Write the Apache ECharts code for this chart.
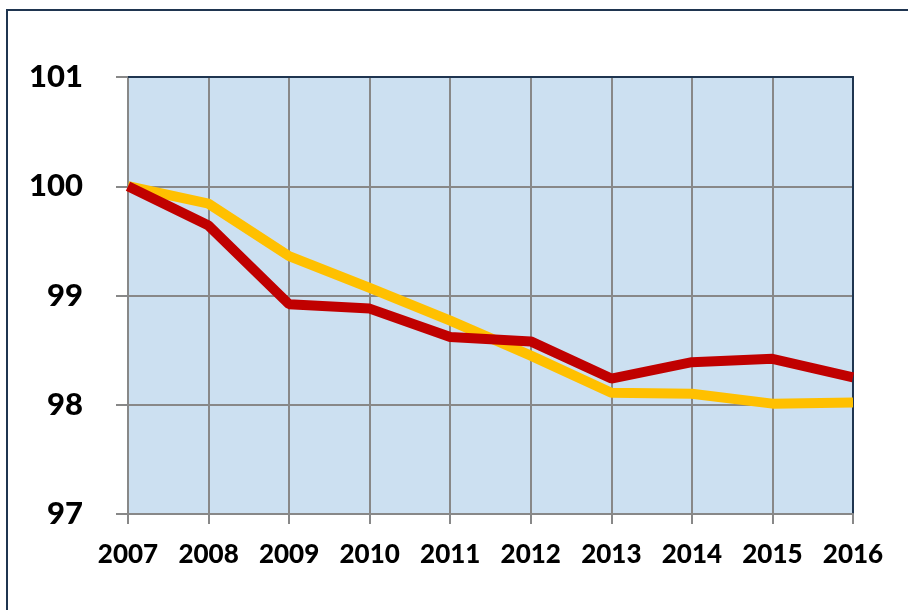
<!DOCTYPE html>
<html>
<head>
<meta charset="utf-8">
<script src="https://cdn.jsdelivr.net/npm/echarts@6/dist/echarts.min.js"></script>
<style>
  html, body { margin: 0; padding: 0; background: #fff; }
  #main { width: 908px; height: 610px; }
</style>
</head>
<body>
<div id="main"></div>
<script>
var years = ['2007', '2008', '2009', '2010', '2011', '2012', '2013', '2014', '2015', '2016'];
var redValues = [100, 99.64, 98.92, 98.88, 98.62, 98.58, 98.24, 98.39, 98.42, 98.25];
var yellowValues = [100, 99.84, 99.36, 99.07, 98.77, 98.45, 98.11, 98.10, 98.01, 98.02];
var yTicks = [97, 98, 99, 100, 101];

var chart = echarts.init(document.getElementById('main'));

var labelFont = { fontFamily: 'Lato', fontWeight: 900, color: '#000' };

var option = {
    animation: false,
    graphic: [{
        type: 'rect',
        shape: { x: 7, y: 10, width: 1000, height: 1000 },
        style: { fill: 'none', stroke: '#1f3550', lineWidth: 2 },
        silent: true
    }],
    grid: {
        left: 128, right: 55, top: 77, bottom: 96,
        show: true,
        backgroundColor: '#cce0f1',
        borderWidth: 0
    },
    xAxis: [{
        type: 'category',
        data: years,
        boundaryGap: false,
        axisLine: { lineStyle: { color: '#888', width: 2 } },
        axisTick: { show: true, length: 10, lineStyle: { color: '#888', width: 2 } },
        axisLabel: Object.assign({ fontSize: 26, margin: 28 }, labelFont),
        splitLine: { show: true, lineStyle: { color: '#888', width: 2 } }
    }, {
        type: 'category',
        data: years,
        position: 'top',
        boundaryGap: false,
        axisLine: { lineStyle: { color: '#1f3550', width: 2 } },
        axisTick: { show: false },
        axisLabel: { show: false },
        splitLine: { show: false }
    }],
    yAxis: [{
        type: 'value',
        min: yTicks[0],
        max: yTicks[yTicks.length - 1],
        interval: 1,
        axisLine: { show: true, lineStyle: { color: '#888', width: 2 } },
        axisTick: { show: true, length: 12, lineStyle: { color: '#888', width: 2 } },
        axisLabel: Object.assign({ fontSize: 31, margin: 45 }, labelFont),
        splitLine: { show: true, lineStyle: { color: '#888', width: 2 } }
    }, {
        type: 'value',
        position: 'right',
        min: yTicks[0],
        max: yTicks[yTicks.length - 1],
        interval: 1,
        axisLine: { show: true, lineStyle: { color: '#1f3550', width: 2 } },
        axisTick: { show: false },
        axisLabel: { show: false },
        splitLine: { show: false }
    }],
    series: [{
        name: 'yellow',
        type: 'line',
        data: yellowValues,
        symbol: 'none',
        lineStyle: { color: '#ffc000', width: 10 }
    }, {
        name: 'red',
        type: 'line',
        data: redValues,
        symbol: 'none',
        lineStyle: { color: '#c00000', width: 10 }
    }]
};

chart.setOption(option);
</script>
</body>
</html>
